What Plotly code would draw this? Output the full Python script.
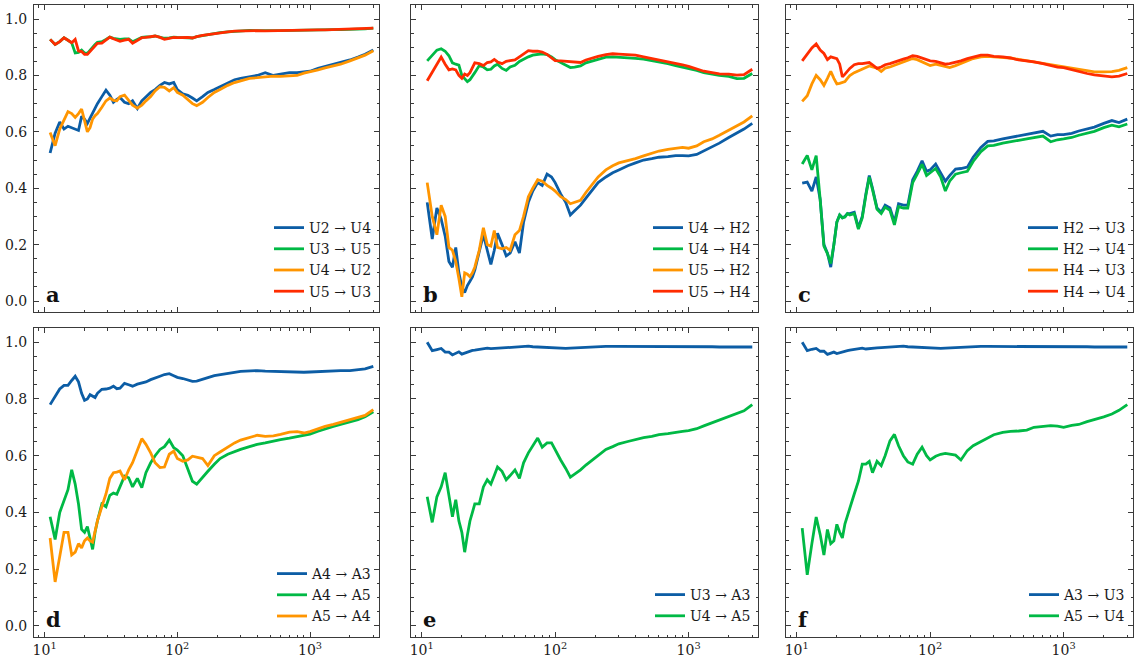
import plotly.graph_objects as go

# ---------------- data ----------------
X = [11, 12, 13, 14, 15, 16, 17, 18, 19, 20, 21, 22, 23, 24, 25,
     27, 29, 31, 33, 35, 37,
     40, 43, 46, 50, 54, 58, 63, 68, 74, 80, 87, 94, 100,
     110, 120, 130, 140, 155, 170, 190, 210, 240, 270, 300,
     350, 400, 460, 530, 600, 700, 800, 900, 1000,
     1150, 1300, 1500, 1700, 2000, 2300, 2600, 3000]

# panel a
a_U2_U4 = [0.525, 0.595, 0.635, 0.61, 0.62, 0.615, 0.61, 0.605, 0.655, 0.645, 0.63, 0.65, 0.67, 0.685, 0.70,
           0.725, 0.748, 0.73, 0.705, 0.715, 0.722,
           0.705, 0.70, 0.71, 0.683, 0.71, 0.725, 0.74, 0.75, 0.765, 0.775, 0.77, 0.775, 0.75,
           0.735, 0.73, 0.72, 0.71, 0.725, 0.74, 0.75, 0.76, 0.775, 0.785, 0.79,
           0.795, 0.80, 0.81, 0.80, 0.805, 0.81, 0.81, 0.812, 0.815,
           0.825, 0.832, 0.838, 0.845, 0.855, 0.865, 0.875, 0.89]
a_U3_U5 = [0.928, 0.91, 0.92, 0.934, 0.925, 0.916, 0.88, 0.882, 0.89, 0.88, 0.878, 0.89, 0.90, 0.91, 0.918,
           0.92, 0.928, 0.936, 0.932, 0.93, 0.928,
           0.93, 0.93, 0.92, 0.928, 0.935, 0.937, 0.937, 0.94, 0.937, 0.932, 0.933, 0.936, 0.935,
           0.935, 0.935, 0.933, 0.938, 0.942, 0.945, 0.948, 0.952, 0.955, 0.957, 0.958,
           0.96, 0.959, 0.958, 0.959, 0.959, 0.96, 0.96, 0.961, 0.961,
           0.962, 0.962, 0.963, 0.963, 0.963, 0.964, 0.965, 0.968]
a_U4_U2 = [0.598, 0.551, 0.61, 0.64, 0.672, 0.665, 0.651, 0.665, 0.681, 0.64, 0.60, 0.615, 0.645, 0.657, 0.665,
           0.687, 0.71, 0.72, 0.712, 0.71, 0.725,
           0.73, 0.71, 0.695, 0.684, 0.695, 0.71, 0.725, 0.745, 0.76, 0.758, 0.745, 0.757, 0.74,
           0.73, 0.716, 0.70, 0.693, 0.705, 0.722, 0.74, 0.75, 0.765, 0.775, 0.782,
           0.79, 0.792, 0.795, 0.798, 0.797, 0.798, 0.80, 0.808, 0.812,
           0.82, 0.827, 0.833, 0.84, 0.852, 0.862, 0.872, 0.888]
a_U5_U3 = [0.928, 0.91, 0.92, 0.934, 0.925, 0.916, 0.928, 0.887, 0.885, 0.875, 0.875, 0.885, 0.895, 0.905, 0.914,
           0.915, 0.925, 0.936, 0.93, 0.925, 0.921,
           0.925, 0.928, 0.914, 0.925, 0.934, 0.935, 0.938, 0.94, 0.935, 0.928, 0.932, 0.935, 0.934,
           0.935, 0.935, 0.933, 0.938, 0.942, 0.945, 0.948, 0.952, 0.955, 0.957, 0.958,
           0.96, 0.959, 0.958, 0.959, 0.959, 0.96, 0.96, 0.961, 0.961,
           0.962, 0.962, 0.963, 0.963, 0.963, 0.964, 0.965, 0.968]

# panel b
b_U4_H2 = [0.35, 0.22, 0.33, 0.29, 0.23, 0.14, 0.12, 0.19, 0.10, 0.05, 0.03, 0.055, 0.07, 0.085, 0.11,
           0.17, 0.235, 0.18, 0.13, 0.18, 0.24,
           0.20, 0.16, 0.17, 0.21, 0.17, 0.28, 0.35, 0.39, 0.42, 0.41, 0.45, 0.44, 0.42,
           0.38, 0.35, 0.305, 0.32, 0.34, 0.365, 0.395, 0.42, 0.44, 0.455, 0.465,
           0.48, 0.49, 0.50, 0.505, 0.51, 0.512, 0.516, 0.516, 0.515,
           0.52, 0.532, 0.545, 0.56, 0.58, 0.595, 0.61, 0.63]
b_U4_H4 = [0.852, 0.873, 0.89, 0.895, 0.886, 0.87, 0.845, 0.84, 0.837, 0.80, 0.79, 0.778, 0.785, 0.80, 0.81,
           0.835, 0.83, 0.82, 0.822, 0.834, 0.84,
           0.825, 0.818, 0.83, 0.836, 0.85, 0.858, 0.866, 0.872, 0.876, 0.877, 0.874, 0.866, 0.856,
           0.846, 0.835, 0.828, 0.83, 0.834, 0.845, 0.852, 0.858, 0.865, 0.866, 0.865,
           0.862, 0.861, 0.858, 0.853, 0.848, 0.842, 0.835, 0.83, 0.825,
           0.818, 0.81, 0.805, 0.80, 0.797, 0.789, 0.79, 0.807]
b_U5_H2 = [0.42, 0.30, 0.235, 0.34, 0.30, 0.19, 0.18, 0.14, 0.08, 0.015, 0.10, 0.095, 0.086, 0.10, 0.12,
           0.18, 0.26, 0.20, 0.195, 0.25, 0.19,
           0.185, 0.19, 0.18, 0.235, 0.25, 0.30, 0.37, 0.40, 0.43, 0.425, 0.41, 0.40, 0.39,
           0.37, 0.36, 0.345, 0.35, 0.357, 0.385, 0.415, 0.44, 0.465, 0.48, 0.49,
           0.498, 0.505, 0.515, 0.525, 0.532, 0.538, 0.543, 0.545, 0.542,
           0.55, 0.565, 0.575, 0.588, 0.605, 0.62, 0.635, 0.657]
b_U5_H4 = [0.781, 0.81, 0.84, 0.865, 0.84, 0.82, 0.823, 0.82, 0.80, 0.79, 0.805, 0.80, 0.81, 0.83, 0.845,
           0.842, 0.835, 0.846, 0.848, 0.857, 0.848,
           0.842, 0.85, 0.853, 0.855, 0.866, 0.876, 0.888, 0.886, 0.886, 0.883, 0.875, 0.862, 0.853,
           0.852, 0.85, 0.848, 0.848, 0.846, 0.855, 0.863, 0.868, 0.874, 0.877, 0.876,
           0.874, 0.872, 0.866, 0.86, 0.855, 0.85, 0.845, 0.838, 0.832,
           0.824, 0.815, 0.81, 0.806, 0.805, 0.801, 0.803, 0.822]

# panel c
c_H2_U3 = [0.418, 0.422, 0.39, 0.44, 0.36, 0.20, 0.17, 0.12, 0.20, 0.28, 0.305, 0.295, 0.30, 0.31, 0.31,
           0.315, 0.26, 0.30, 0.38, 0.445, 0.40,
           0.33, 0.315, 0.34, 0.33, 0.28, 0.345, 0.34, 0.34, 0.43, 0.46, 0.497, 0.46, 0.465,
           0.486, 0.455, 0.425, 0.445, 0.468, 0.47, 0.475, 0.51, 0.545, 0.566, 0.568,
           0.575, 0.58, 0.585, 0.59, 0.595, 0.602, 0.585, 0.59, 0.59,
           0.595, 0.603, 0.61, 0.617, 0.63, 0.64, 0.633, 0.645]
c_H2_U4 = [0.486, 0.516, 0.465, 0.516, 0.36, 0.195, 0.168, 0.133, 0.20, 0.28, 0.305, 0.295, 0.298, 0.31, 0.305,
           0.31, 0.255, 0.295, 0.375, 0.44, 0.395,
           0.325, 0.31, 0.333, 0.322, 0.27, 0.335, 0.33, 0.33, 0.42, 0.45, 0.485, 0.445, 0.455,
           0.47, 0.44, 0.39, 0.425, 0.45, 0.455, 0.46, 0.495, 0.53, 0.55, 0.552,
           0.56, 0.566, 0.57, 0.575, 0.58, 0.585, 0.565, 0.572, 0.575,
           0.58, 0.588, 0.595, 0.602, 0.615, 0.624, 0.618, 0.628]
c_H4_U3 = [0.708, 0.728, 0.77, 0.80, 0.785, 0.765, 0.79, 0.815, 0.79, 0.77, 0.772, 0.775, 0.778, 0.79, 0.80,
           0.81, 0.816, 0.822, 0.828, 0.834, 0.83,
           0.826, 0.814, 0.826, 0.83, 0.836, 0.84, 0.846, 0.852, 0.86, 0.856, 0.848, 0.84, 0.835,
           0.84, 0.835, 0.83, 0.828, 0.835, 0.842, 0.852, 0.86, 0.866, 0.868, 0.866,
           0.865, 0.862, 0.857, 0.852, 0.848, 0.843, 0.838, 0.834, 0.831,
           0.825, 0.82, 0.815, 0.813, 0.813, 0.814, 0.818, 0.828]
c_H4_U4 = [0.852, 0.878, 0.898, 0.912, 0.89, 0.878, 0.856, 0.866, 0.862, 0.86, 0.84, 0.795, 0.805, 0.815, 0.825,
           0.838, 0.842, 0.842, 0.844, 0.846, 0.838,
           0.825, 0.83, 0.838, 0.842, 0.848, 0.852, 0.858, 0.863, 0.87, 0.868, 0.862, 0.855, 0.852,
           0.85, 0.845, 0.84, 0.842, 0.846, 0.852, 0.86, 0.866, 0.872, 0.872, 0.868,
           0.866, 0.862, 0.855, 0.852, 0.848, 0.842, 0.836, 0.83, 0.828,
           0.82, 0.814, 0.807, 0.802, 0.798, 0.795, 0.798, 0.807]

# panel d
d_A4_A3 = [0.78, 0.81, 0.835, 0.848, 0.848, 0.865, 0.88, 0.86, 0.82, 0.795, 0.80, 0.815, 0.81, 0.805, 0.82,
           0.834, 0.835, 0.838, 0.845, 0.836, 0.838,
           0.855, 0.85, 0.845, 0.852, 0.855, 0.86, 0.868, 0.875, 0.88, 0.886, 0.889, 0.882, 0.876,
           0.872, 0.866, 0.862, 0.863, 0.868, 0.875, 0.882, 0.886, 0.89, 0.894, 0.897,
           0.899, 0.90, 0.898, 0.897, 0.895, 0.894, 0.893, 0.894, 0.895,
           0.897, 0.898, 0.899, 0.90, 0.90, 0.903, 0.906, 0.915]
d_A4_A5 = [0.385, 0.305, 0.40, 0.445, 0.48, 0.55, 0.50, 0.43, 0.34, 0.33, 0.35, 0.31, 0.27, 0.33, 0.37,
           0.43, 0.42, 0.46, 0.468, 0.464, 0.49,
           0.528, 0.522, 0.49, 0.52, 0.487, 0.54, 0.575, 0.60, 0.622, 0.632, 0.655, 0.628, 0.62,
           0.60, 0.555, 0.51, 0.50, 0.525, 0.545, 0.57, 0.59, 0.605, 0.615, 0.622,
           0.632, 0.64, 0.645, 0.652, 0.657, 0.662, 0.668, 0.672, 0.676,
           0.686, 0.695, 0.703, 0.71, 0.718, 0.727, 0.737, 0.755]
d_A5_A4 = [0.31, 0.155, 0.245, 0.33, 0.33, 0.25, 0.26, 0.29, 0.275, 0.30, 0.31, 0.30, 0.295, 0.33, 0.37,
           0.42, 0.465, 0.52, 0.54, 0.542, 0.546,
           0.515, 0.55, 0.575, 0.62, 0.66, 0.64, 0.61, 0.575, 0.558, 0.56, 0.605, 0.616, 0.59,
           0.58, 0.585, 0.598, 0.595, 0.59, 0.565, 0.60, 0.613, 0.63, 0.645, 0.655,
           0.665, 0.672, 0.668, 0.67, 0.675, 0.683, 0.685, 0.68, 0.685,
           0.695, 0.703, 0.71, 0.717, 0.725, 0.733, 0.742, 0.762]

# panel e
e_U3_A3 = [1.0, 0.97, 0.974, 0.978, 0.965, 0.965, 0.955, 0.962, 0.966, 0.958, 0.962, 0.966, 0.969, 0.971, 0.972,
           0.974, 0.976, 0.979, 0.977, 0.978, 0.979,
           0.98, 0.981, 0.981, 0.983, 0.984, 0.985, 0.986, 0.984, 0.983, 0.982, 0.982, 0.981, 0.979,
           0.978, 0.978, 0.979, 0.98, 0.981, 0.982, 0.983, 0.984, 0.985, 0.985, 0.985,
           0.986, 0.986, 0.986, 0.986, 0.986, 0.985, 0.985, 0.985, 0.985,
           0.984, 0.984, 0.984, 0.983, 0.983, 0.983, 0.983, 0.983]
e_U4_A5 = [0.455, 0.365, 0.455, 0.49, 0.54, 0.46, 0.385, 0.445, 0.37, 0.33, 0.26, 0.32, 0.37, 0.40, 0.43,
           0.43, 0.49, 0.515, 0.50, 0.53, 0.56,
           0.545, 0.515, 0.53, 0.55, 0.52, 0.575, 0.61, 0.635, 0.662, 0.63, 0.645, 0.645, 0.62,
           0.585, 0.555, 0.524, 0.535, 0.55, 0.567, 0.585, 0.60, 0.622, 0.632, 0.642,
           0.65, 0.657, 0.664, 0.668, 0.674, 0.678, 0.683, 0.686, 0.688,
           0.695, 0.705, 0.716, 0.725, 0.738, 0.748, 0.758, 0.78]

# panel f
f_A3_U3 = [1.0, 0.97, 0.975, 0.978, 0.968, 0.968, 0.957, 0.96, 0.965, 0.96, 0.962, 0.965, 0.968, 0.97, 0.972,
           0.974, 0.977, 0.979, 0.976, 0.978, 0.98,
           0.98, 0.981, 0.982, 0.983, 0.984, 0.985, 0.986, 0.984, 0.983, 0.982, 0.982, 0.98, 0.979,
           0.978, 0.978, 0.979, 0.98, 0.981, 0.982, 0.983, 0.984, 0.985, 0.985, 0.985,
           0.986, 0.986, 0.986, 0.986, 0.986, 0.985, 0.985, 0.985, 0.985,
           0.984, 0.984, 0.984, 0.983, 0.983, 0.983, 0.983, 0.983]
f_A5_U4 = [0.345, 0.18, 0.29, 0.384, 0.322, 0.25, 0.34, 0.29, 0.30, 0.358, 0.33, 0.31, 0.36, 0.39, 0.42,
           0.465, 0.51, 0.57, 0.57, 0.58, 0.54,
           0.58, 0.565, 0.60, 0.652, 0.675, 0.635, 0.60, 0.578, 0.57, 0.605, 0.63, 0.60, 0.585,
           0.598, 0.605, 0.608, 0.605, 0.602, 0.585, 0.618, 0.635, 0.65, 0.665, 0.674,
           0.682, 0.686, 0.687, 0.69, 0.70, 0.704, 0.706, 0.704, 0.70,
           0.707, 0.71, 0.72, 0.727, 0.737, 0.747, 0.76, 0.78]

PANEL_LETTERS = ["a", "b", "c", "d", "e", "f"]
PANEL_NAMES = [
    ["U2 → U4", "U3 → U5", "U4 → U2", "U5 → U3"],
    ["U4 → H2", "U4 → H4", "U5 → H2", "U5 → H4"],
    ["H2 → U3", "H2 → U4", "H4 → U3", "H4 → U4"],
    ["A4 → A3", "A4 → A5", "A5 → A4"],
    ["U3 → A3", "U4 → A5"],
    ["A3 → U3", "A5 → U4"],
]
PANEL_SERIES = [
    [a_U2_U4, a_U3_U5, a_U4_U2, a_U5_U3],
    [b_U4_H2, b_U4_H4, b_U5_H2, b_U5_H4],
    [c_H2_U3, c_H2_U4, c_H4_U3, c_H4_U4],
    [d_A4_A3, d_A4_A5, d_A5_A4],
    [e_U3_A3, e_U4_A5],
    [f_A3_U3, f_A5_U4],
]
X_TICKS = [10, 100, 1000]
X_TICKTEXT = ["10<sup>1</sup>", "10<sup>2</sup>", "10<sup>3</sup>"]
X_MINOR = [9, 20, 30, 40, 50, 60, 70, 80, 90, 200, 300, 400, 500, 600, 700, 800, 900, 2000, 3000]
Y_TICKS = [0.0, 0.2, 0.4, 0.6, 0.8, 1.0]

# ---------------- style ----------------
COLORS = ["#0C5DA5", "#00B945", "#FF9500", "#FF2C00"]
W, H = 1135, 659
COLS_PX = [(34, 379), (411, 758), (786, 1133)]
ROWS_PX = [(5, 312), (328, 637)]
XR = [0.92, 3.52]
YR = [-0.039, 1.05]
FRAME = "#3a3a3a"
FONT = "DejaVu Serif"
TXT = "#1a1a1a"

fig = go.Figure()
layout = {}
for i in range(6):
    r, c = divmod(i, 3)
    sfx = "" if i == 0 else str(i + 1)
    leg = "legend" if i == 0 else f"legend{i + 1}"
    for k, (name, ys) in enumerate(zip(PANEL_NAMES[i], PANEL_SERIES[i])):
        fig.add_trace(go.Scatter(
            x=X, y=ys, name=name, mode="lines",
            line=dict(color=COLORS[k], width=2.8),
            xaxis="x" + sfx, yaxis="y" + sfx, legend=leg, showlegend=True))
    x0, x1 = COLS_PX[c]
    y0, y1 = ROWS_PX[r]
    layout["xaxis" + sfx] = dict(
        type="log", range=XR, domain=[x0 / W, x1 / W], anchor="y" + sfx,
        showline=True, linecolor=FRAME, linewidth=1, mirror="allticks",
        ticks="inside", ticklen=5, tickwidth=1, tickcolor=FRAME,
        tickmode="array", tickvals=X_TICKS, ticktext=X_TICKTEXT,
        showticklabels=(r == 1), showgrid=False, zeroline=False,
        minor=dict(tickmode="array", tickvals=X_MINOR, ticks="inside", ticklen=2.5,
                   tickwidth=1, tickcolor=FRAME, showgrid=False),
        tickfont=dict(family=FONT, size=14, color=TXT), automargin=False)
    layout["yaxis" + sfx] = dict(
        range=YR, domain=[1 - y1 / H, 1 - y0 / H], anchor="x" + sfx,
        showline=True, linecolor=FRAME, linewidth=1, mirror="allticks",
        ticks="inside", ticklen=5, tickwidth=1, tickcolor=FRAME,
        tickmode="array", tickvals=Y_TICKS, ticktext=[f"{v:.1f}" for v in Y_TICKS],
        showticklabels=(c == 0), showgrid=False, zeroline=False,
        minor=dict(tick0=0, dtick=0.05, ticks="inside", ticklen=2.5,
                   tickwidth=1, tickcolor=FRAME, showgrid=False),
        tickfont=dict(family=FONT, size=14, color=TXT), ticklabelstandoff=3,
        automargin=False)
    layout[leg] = dict(
        x=(x1 - 2) / W, xanchor="right", y=1 - (y1 - 5) / H, yanchor="bottom",
        bgcolor="rgba(0,0,0,0)", borderwidth=0,
        font=dict(family=FONT, size=14, color=TXT), itemwidth=30, tracegroupgap=0)
    fig.add_annotation(
        text=f"<b>{PANEL_LETTERS[i]}</b>", xref=f"x{sfx} domain", yref=f"y{sfx} domain",
        x=0.03, y=0.01, xanchor="left", yanchor="bottom", showarrow=False,
        font=dict(family=FONT, size=21, color="#111"))

fig.update_layout(
    width=W, height=H, margin=dict(l=0, r=0, t=0, b=0),
    paper_bgcolor="white", plot_bgcolor="white", **layout)

fig.write_html("out.html", config={"displayModeBar": False},
               post_script="document.body.style.margin='0';document.body.style.overflow='hidden';")
